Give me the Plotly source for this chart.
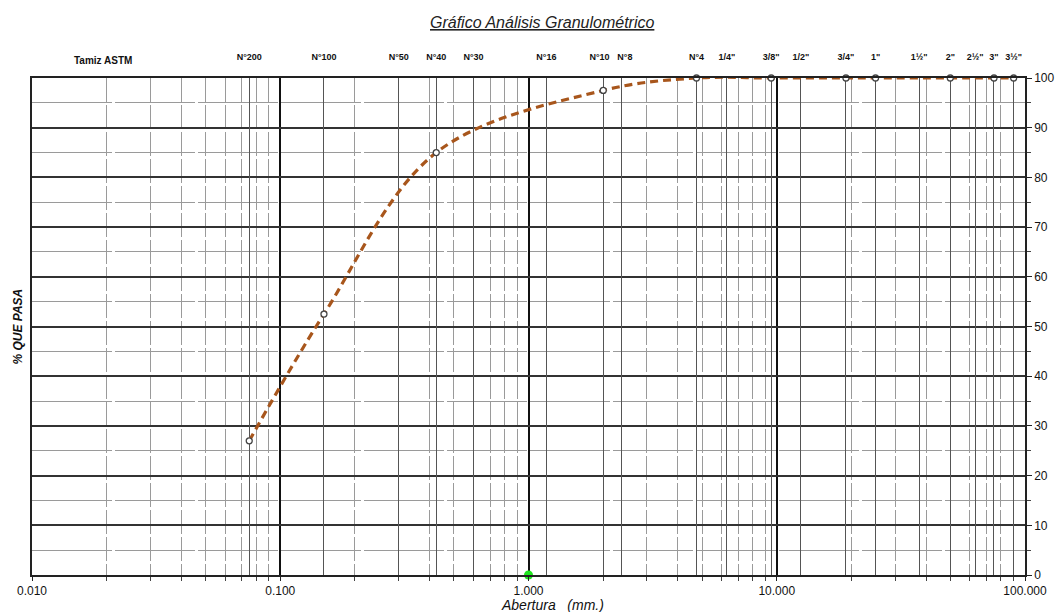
import plotly.graph_objects as go

# ---- data ----
sieve_names = ["N°200", "N°100", "N°50", "N°40", "N°30", "N°16", "N°10", "N°8", "N°4",
               "1/4\"", "3/8\"", "1/2\"", "3/4\"", "1\"", "1½\"", "2\"", "2½\"", "3\"", "3½\""]
sieve_sizes = [0.075, 0.15, 0.3, 0.425, 0.6, 1.18, 2.0, 2.36, 4.75,
               6.3, 9.5, 12.5, 19.0, 25.0, 37.5, 50.0, 63.0, 75.0, 90.0]

curve_x = [0.075, 0.15, 0.425, 2.0, 4.75, 9.5, 19.0, 25.0, 50.0, 75.0, 90.0]
curve_y = [27.0, 52.5, 85.0, 97.5, 100.0, 100.0, 100.0, 100.0, 100.0, 100.0, 100.0]

green_x = [1.0]
green_y = [0.0]

major_x = [0.01, 0.1, 1.0, 10.0, 100.0]
major_x_text = ["0.010", "0.100", "1.000", "10.000", "100.000"]
minor_x = [m * d for d in [0.01, 0.1, 1.0, 10.0] for m in range(2, 10)]

FONT = "Liberation Sans, Arial, sans-serif"


def top_label(name):
    # small padding so the crowded N°10 / N°8 labels don't collide
    if name == "N°10":
        return "<b>%s</b>&nbsp;&nbsp;&nbsp;" % name
    if name == "N°8":
        return "&nbsp;&nbsp;&nbsp;<b>%s</b>" % name
    return "<b>%s</b>" % name


fig = go.Figure()

fig.add_trace(go.Scatter(
    x=curve_x, y=curve_y, mode="lines+markers",
    line=dict(color="#a8561c", width=3.2, dash="8px,5px", shape="spline", smoothing=1.0),
    marker=dict(symbol="circle", size=6, color="white",
                line=dict(color="#444444", width=1.3)),
    showlegend=False, xaxis="x", yaxis="y", cliponaxis=False,
))

fig.add_trace(go.Scatter(
    x=green_x, y=green_y, mode="markers",
    marker=dict(size=9, color="#1ee61e"),
    showlegend=False, xaxis="x", yaxis="y", cliponaxis=False,
))

# invisible trace to activate top axis
fig.add_trace(go.Scatter(
    x=sieve_sizes, y=[None] * len(sieve_sizes), mode="markers",
    showlegend=False, xaxis="x2", yaxis="y", hoverinfo="skip",
))

fig.update_layout(
    width=1061, height=612,
    margin=dict(l=32, r=36, t=78, b=37, autoexpand=False),
    paper_bgcolor="white", plot_bgcolor="white",
    font=dict(family=FONT, color="#111111"),
    xaxis=dict(
        type="log", range=[-2, 2], automargin=False,
        tickmode="array", tickvals=major_x, ticktext=major_x_text,
        tickfont=dict(size=12, family=FONT, color="#111111"),
        ticks="outside", ticklen=4, tickcolor="#222222", tickwidth=1.2,
        showgrid=True, gridcolor="#111111", gridwidth=1.6,
        showline=True, linecolor="#222222", linewidth=1.5, mirror=False,
        zeroline=False,
        minor=dict(tickmode="array", tickvals=minor_x, showgrid=True,
                   gridcolor="#9a9a9a", gridwidth=1.3, griddash="24px,3px",
                   ticks="outside", ticklen=4, tickcolor="#444444"),
    ),
    xaxis2=dict(
        type="log", range=[-2, 2], overlaying="x", side="top", automargin=False,
        tickmode="array", tickvals=sieve_sizes,
        ticktext=[top_label(s) for s in sieve_names],
        tickangle=0,
        tickfont=dict(size=9, family=FONT, color="#111111"),
        ticks="outside", ticklen=13, tickcolor="rgba(0,0,0,0)",
        showgrid=True, gridcolor="#555555", gridwidth=1.4,
        showline=True, linecolor="#222222", linewidth=1.5,
        zeroline=False,
    ),
    yaxis=dict(
        range=[0, 100], side="right", automargin=False,
        tickmode="linear", tick0=0, dtick=10,
        tickfont=dict(size=12, family=FONT, color="#111111"),
        ticks="outside", ticklen=5, tickcolor="#222222",
        showgrid=True, gridcolor="#333333", gridwidth=1.6,
        showline=True, linecolor="#222222", linewidth=1.5, mirror=True,
        zeroline=False,
        minor=dict(dtick=5, showgrid=True, gridcolor="#9a9a9a", gridwidth=1.3,
                   griddash="80px,3px", ticks="outside", ticklen=4, tickcolor="#444444"),
    ),
    annotations=[
        dict(text="<i><u>Gráfico Análisis Granulométrico</u></i>", xref="paper", yref="paper",
             x=0.514, y=1.0, yshift=56, xanchor="center", yanchor="middle", showarrow=False,
             font=dict(size=16, family=FONT, color="#222222")),
        dict(text="<b>Tamiz ASTM</b>", xref="paper", yref="paper",
             x=0.072, y=1.0, yshift=18, xanchor="center", yanchor="middle", showarrow=False,
             font=dict(size=10, family=FONT, color="#111111")),
        dict(text="<b><i>% QUE PASA</i></b>", xref="paper", yref="paper",
             x=0.0, xshift=-15, y=0.5, xanchor="center", yanchor="middle",
             textangle=-90, showarrow=False,
             font=dict(size=12, family=FONT, color="#111111")),
        dict(text="<i>Abertura   (mm.)</i>", xref="paper", yref="paper",
             x=0.524, y=0.0, yshift=-30, xanchor="center", yanchor="middle", showarrow=False,
             font=dict(size=14, family=FONT, color="#111111")),
    ],
)

fig.write_html("out.html")
